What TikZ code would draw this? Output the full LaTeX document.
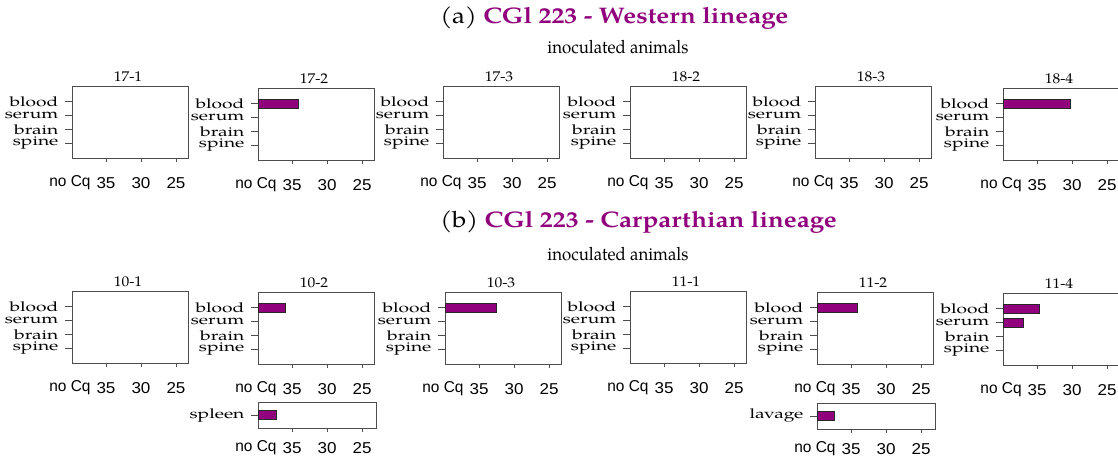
\documentclass[tikz,border=0pt]{standalone}
\usepackage{fontspec}
\usepackage{graphicx}
\usepackage{tikz}
\usetikzlibrary{calc, positioning}

\newfontfamily\serifface{TeX Gyre Pagella}
\newfontfamily\axfont{Liberation Sans}

\definecolor{cqpurple}{RGB}{145,0,125}

% the plots are printed a little wide
\newcommand{\wide}[2]{\scalebox{#1}[1]{#2}}

\tikzset{
	panelbox/.style={draw=black!70, line width=0.6pt},
	axline/.style={draw=black!70, line width=0.6pt},
	barfill/.style={draw=black!85, fill=cqpurple, line width=0.4pt},
	paneltitle/.style={inner sep=0pt, font=\serifface\fontsize{10}{11}\selectfont},
	tisslabel/.style={anchor=east, inner sep=0pt, font=\serifface\fontsize{9.6}{10}\selectfont},
	cqlabel/.style={inner sep=0pt, font=\axfont\fontsize{11.2}{12}\selectfont},
	maintitle/.style={anchor=west, inner sep=0pt, font=\serifface\fontsize{16}{19}\selectfont},
	subtitle/.style={inner sep=0pt, font=\serifface\fontsize{13}{15}\selectfont}
}

% x axis under a panel: name, left, bottom, label gap
\newcommand{\cqaxis}[4]{%
	\foreach \v/\dx in {35/34,30/69,25/104}
		\draw[axline] (#2+\dx,#3) -- (#2+\dx,#3+4);
	\node[cqlabel] (#1-nocq) at (#2-2,#3+#4) {\wide{0.98}{no Cq}};
	\foreach \v/\dx in {35/34,30/69,25/104}
		\node[cqlabel] (#1-x\v) at (#2+\dx,#3+#4) {\wide{1.08}{\v}};
}

% one animal: name, left, top, title
\newcommand{\cqpanel}[4]{%
	\draw[panelbox] (#2,#3) rectangle (#2+116,#3+72);
	\node[paneltitle] (#1-title) at (#2+56,#3-9) {\wide{1.1}{#4}};
	\foreach \lab [count=\i from 0] in {blood,serum,brain,spine}{
		\coordinate (#1-\lab) at (#2,#3+15.5+14*\i);
		\draw[axline] ([xshift=-5pt]#1-\lab) -- (#1-\lab);
		\node[tisslabel] (#1-\lab-text) at ([xshift=-9.5pt]#1-\lab) {\wide{1.42}{\lab}};
	}
	\cqaxis{#1}{#2}{#3+72}{25}
}

% one extra tissue under a panel
\newcommand{\cqstrip}[4]{%
	\draw[panelbox] (#2,#3) rectangle (#2+118,#3+26);
	\coordinate (#1-row) at (#2,#3+13);
	\draw[axline] ([xshift=-5pt]#1-row) -- (#1-row);
	\node[tisslabel] (#1-text) at ([xshift=-9.5pt]#1-row) {\wide{1.42}{#4}};
	\cqaxis{#1}{#2}{#3+26}{20}
}

% bar from the left edge, length in px
\newcommand{\cqbar}[2]{\draw[barfill] ([yshift=3.2pt]#1) rectangle ++(#2,9);}

\begin{document}
\begin{tikzpicture}[x=0.025cm, y=-0.025cm]
	\useasboundingbox (0,0) rectangle (1118,459);
	\fill[white] (0,0) rectangle (1118,459);

	% (a) Western lineage
	\node[maintitle] (titleA) at (440,18) {\wide{1.15}{(a) \textcolor{cqpurple}{\bfseries CGl 223 - Western lineage}}};
	\node[subtitle] (subA) at (618,47) {\wide{0.92}{inoculated animals}};

	\cqpanel{p171}{72}{86}{17-1}
	\cqpanel{p172}{258}{88}{17-2}
	\cqpanel{p173}{443}{86}{17-3}
	\cqpanel{p182}{630}{86}{18-2}
	\cqpanel{p183}{815}{86}{18-3}
	\cqpanel{p184}{1003}{88}{18-4}

	\cqbar{p172-blood}{40}
	\cqbar{p184-blood}{67}

	% (b) Carparthian lineage
	\node[maintitle] (titleB) at (440,222) {\wide{1.15}{(b) \textcolor{cqpurple}{\bfseries CGl 223 - Carparthian lineage}}};
	\node[subtitle] (subB) at (618,254) {\wide{0.92}{inoculated animals}};

	\cqpanel{p101}{72}{291}{10-1}
	\cqpanel{p102}{258}{292}{10-2}
	\cqpanel{p103}{445}{292}{10-3}
	\cqpanel{p111}{630}{291}{11-1}
	\cqpanel{p112}{817}{292}{11-2}
	\cqpanel{p114}{1003}{293}{11-4}

	\cqbar{p102-blood}{27}
	\cqbar{p103-blood}{51}
	\cqbar{p112-blood}{40}
	\cqbar{p114-blood}{36}
	\cqbar{p114-serum}{20}

	% extra tissues
	\cqstrip{spleen}{258}{402}{spleen}
	\cqstrip{lavage}{817}{403}{lavage}
	\cqbar{spleen-row}{18}
	\cqbar{lavage-row}{17}
\end{tikzpicture}
\end{document}
